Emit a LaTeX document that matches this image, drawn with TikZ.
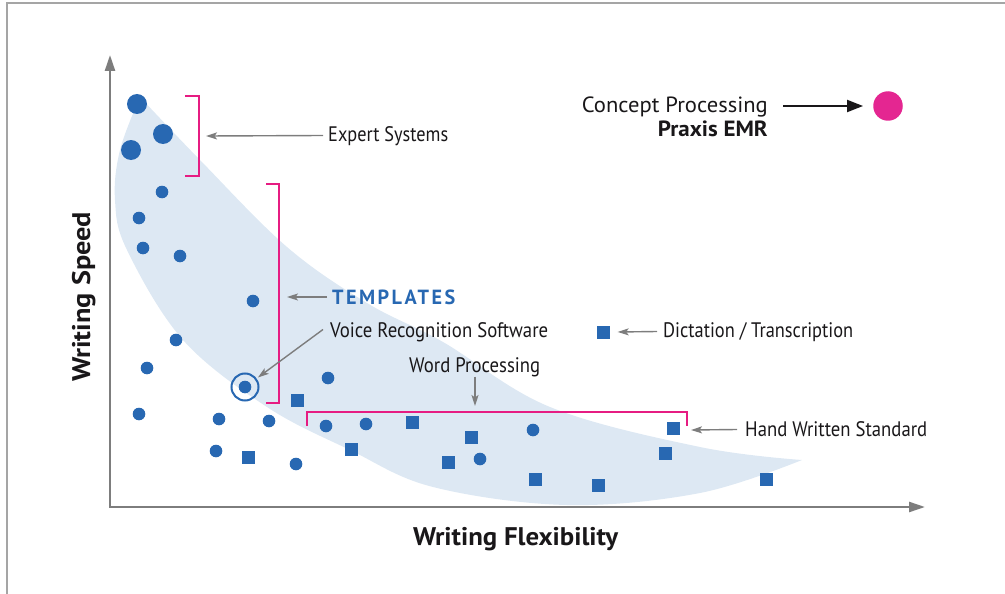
\documentclass[tikz,border=0pt]{standalone}
\usepackage{fontspec}
\setmainfont{PT Sans}
\usetikzlibrary{arrows.meta}
\definecolor{dotblue}{RGB}{40,104,178}
\definecolor{bandblue}{RGB}{221,232,243}
\definecolor{magline}{RGB}{230,28,130}
\definecolor{magdot}{RGB}{228,38,145}
\definecolor{axisgray}{RGB}{125,125,125}
\definecolor{framegray}{RGB}{165,165,165}
\definecolor{inkblack}{RGB}{25,23,25}
% set a label to an exact width by stretching it horizontally
\newlength\fitlen
\newcommand\fitbox[2]{\settowidth\fitlen{#2}\pgfmathsetmacro\fitratio{#1/\fitlen}\scalebox{\fitratio}[1]{#2}}
\begin{document}
\begin{tikzpicture}[x=1pt,y=-1pt,
  dot/.style={circle,fill=dotblue,inner sep=0pt,minimum size=12.6pt},
  bigdot/.style={dot,minimum size=20pt},
  sq/.style={rectangle,fill=dotblue,inner sep=0pt,minimum size=13pt},
  bracket/.style={magline,line width=2.4pt},
  pointer/.style={axisgray,line width=1.4pt,-{Stealth[length=11pt,width=7pt,inset=2.5pt]}},
  lbl/.style={inner sep=0pt,text=inkblack,font=\fontsize{21}{25}\selectfont},
  boldlbl/.style={lbl,font=\fontsize{25.5}{30}\selectfont\bfseries},
]
\useasboundingbox (0,0) rectangle (1005,594);

% outer frame (top and left edges)
\draw[framegray,line width=1.5pt] (7,594) -- (7,3) -- (1005,3);

% shaded band of typical methods
\fill[bandblue]
  plot[smooth,tension=0.6] coordinates {(140,97) (200,160) (287,247) (367,303) (443,342) (550,407) (700,447) (802,460)}
  -- plot[smooth,tension=0.6] coordinates {(802,460) (700,493) (567,505) (433,487) (350,450) (267,407) (183,340) (127,250) (115,200) (120,150) (140,97)}
  -- cycle;

% axes
\coordinate (ytip) at (110,55);
\coordinate (orig) at (110,507);
\coordinate (xtip) at (925,507);
\draw[axisgray,line width=2.4pt,{Triangle[length=16pt,width=10pt]}-{Triangle[length=16pt,width=10pt]}] (ytip) -- (orig) -- (xtip);
\node[boldlbl,rotate=90,anchor=base west] (yl) at (90,382) {\fitbox{170}{Writing Speed}};
\node[boldlbl,anchor=base west] (xl) at (413,545) {\fitbox{205}{Writing Flexibility}};

% round markers
\node[bigdot] (b1) at (137,104) {};
\node[bigdot] (b2) at (163,134) {};
\node[bigdot] (b3) at (131,150) {};
\foreach \x/\y [count=\i] in {162/192,139/218,143/248,180/256,253/301,176/340,147/368,
    139/414,219/419,269/421,216/451,296/464,328/378,326/426,366/424,480/459,533/430}
  \node[dot] (c\i) at (\x,\y) {};
% square markers
\foreach \x/\y [count=\i] in {297/400,248/457,351/449,412/422,471/437,448/462,535/479,
    598/485,673/428,665/453,766/479}
  \node[sq] (s\i) at (\x,\y) {};

% highlighted voice recognition marker
\node[dot] (vrd) at (245,387) {};
\node[circle,draw=dotblue,line width=2pt,inner sep=0pt,minimum size=27pt] (vr) at (245,387) {};

% brackets
\draw[bracket] (185,96) -- (199,96) -- (199,176) -- (185,176);
\draw[bracket] (266,184) -- (279,184) -- (279,403) -- (266,403);
\draw[bracket] (307,426) -- (307,412) -- (687,412) -- (687,426);

% labels
\node[lbl,anchor=base west] (es) at (328,142) {\fitbox{120}{Expert Systems}};
\node[lbl,anchor=base west,text=dotblue,font=\fontsize{20.5}{24}\selectfont\bfseries\addfontfeature{LetterSpace=12}] (tp) at (332,304) {\fitbox{123}{TEMPLATES}};
\node[lbl,anchor=base west] (vrs) at (330,337) {\fitbox{218}{Voice Recognition Software}};
\node[lbl,anchor=base west] (wp) at (409,372) {\fitbox{131}{Word Processing}};
\node[lbl,anchor=base west] (dt) at (663,337) {\fitbox{190}{Dictation / Transcription}};
\node[lbl,anchor=base west] (hw) at (745,436) {\fitbox{182}{Hand Written Standard}};
\node[lbl,anchor=base east,font=\fontsize{22}{26}\selectfont] (cp) at (768,113) {\fitbox{186}{Concept Processing}};
\node[lbl,anchor=base east,font=\fontsize{22}{26}\selectfont\bfseries] (px) at (768,136) {\fitbox{110}{Praxis EMR}};

% dictation marker and concept processing marker
\node[sq] (dq) at (603,332) {};
\node[circle,fill=magdot,inner sep=0pt,minimum width=28pt,minimum height=29.5pt] (md) at (888,106) {};

% pointer ends
\coordinate (esTip) at (206,136);
\coordinate (tpTip) at (287,297);
\coordinate (wpTip) at (475,406);
\coordinate (hwTip) at (691,430);

% pointers
\draw[pointer] ([xshift=-5pt,yshift=6.5pt]es.base west) -- (esTip);
\draw[pointer] ([xshift=-5pt,yshift=7pt]tp.base west) -- (tpTip);
\draw[pointer,shorten >=1.5pt] ([xshift=-7pt,yshift=7.5pt]vrs.base west) -- (vr);
\draw[pointer] (wp.south -| wpTip) -- (wpTip);
\draw[pointer] ([xshift=-6pt,yshift=5.5pt]dt.base west) -- ([xshift=8pt]dq.east);
\draw[pointer] ([xshift=-8pt,yshift=6.5pt]hw.base west) -- (hwTip);
\draw[inkblack,line width=2pt,-{Triangle[length=16pt,width=12pt]},shorten >=10pt] ([xshift=15pt,yshift=7pt]cp.base east) -- (md);
\end{tikzpicture}
\end{document}
